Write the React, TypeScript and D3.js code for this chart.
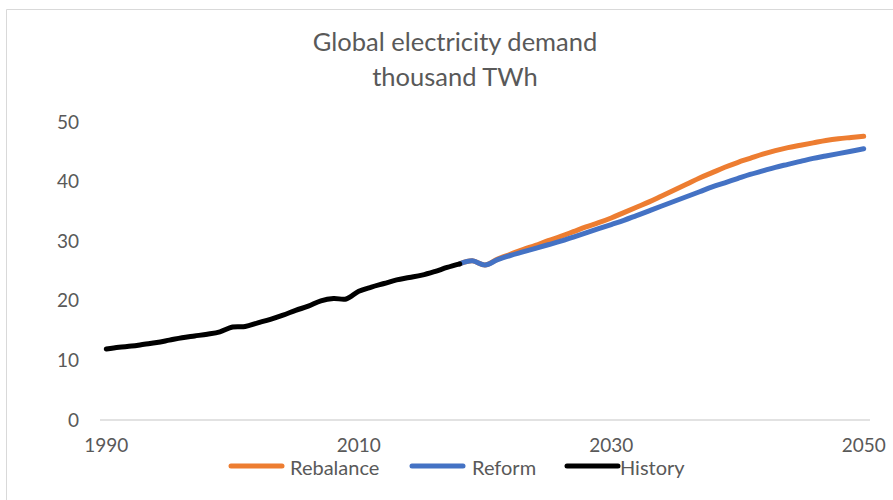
import React from "react";
import * as d3 from "d3";

const title1 = "Global electricity demand";
const title2 = "thousand TWh";

const categories = d3.range(1990, 2051);
const xTickLabels = [1990, 2010, 2030, 2050];
const yTicks = [0, 10, 20, 30, 40, 50];

const historyStart = 1990;
const historyValues = [
  11.9, 12.2, 12.4, 12.7, 13.0, 13.4, 13.8, 14.1, 14.4, 14.8,
  15.6, 15.7, 16.3, 16.9, 17.6, 18.4, 19.1, 20.0, 20.4, 20.3,
  21.6, 22.3, 22.9, 23.5, 23.9, 24.3, 24.9, 25.6, 26.2,
];

const forecastStart = 2018;
const rebalanceValues = [
  26.2, 26.7, 26.0, 27.0, 27.8, 28.6, 29.3, 30.1, 30.8, 31.6,
  32.4, 33.1, 33.9, 34.8, 35.7, 36.6, 37.6, 38.6, 39.6, 40.6,
  41.5, 42.4, 43.2, 43.9, 44.6, 45.2, 45.7, 46.1, 46.5, 46.9,
  47.2, 47.4, 47.6,
];
const reformValues = [
  26.2, 26.7, 26.0, 26.9, 27.6, 28.2, 28.8, 29.4, 30.0, 30.7,
  31.4, 32.1, 32.8, 33.5, 34.3, 35.1, 35.9, 36.7, 37.5, 38.3,
  39.1, 39.8, 40.5, 41.2, 41.8, 42.4, 42.9, 43.4, 43.9, 44.3,
  44.7, 45.1, 45.5,
];

const seriesNames = ["Rebalance", "Reform", "History"];
const seriesColors = ["#ED7D31", "#4472C4", "#000000"];

const FONT = "Lato, 'Open Sans', sans-serif";
const TEXT = "#595959";

export default function App() {
  const W = 893;
  const H = 500;
  const x = d3
    .scalePoint<number>()
    .domain(categories)
    .range([100, 870])
    .padding(0.5);
  const y = d3.scaleLinear().domain([0, 50]).range([420, 122]);

  const toPts = (start: number, vals: number[]) =>
    vals.map((v, i) => [start + i, v] as [number, number]);

  const line = d3
    .line<[number, number]>()
    .x((d) => x(d[0]) as number)
    .y((d) => y(d[1]))
    .curve(d3.curveCatmullRom.alpha(0.5));

  const series = [
    toPts(forecastStart, rebalanceValues),
    toPts(forecastStart, reformValues),
    toPts(historyStart, historyValues),
  ];

  const legendItems = [
    { lx: 231, tx: 290 },
    { lx: 412, tx: 472 },
    { lx: 567, tx: 620 },
  ];

  return (
    <svg
      width={W}
      height={H}
      style={{ position: "absolute", left: 0, top: 0, background: "#fff" }}
    >
      <rect x={0} y={0} width={W} height={H} fill="#fff" />
      <line x1={6.5} y1={9.5} x2={W} y2={9.5} stroke="#d9d9d9" strokeWidth={1} />
      <line x1={6.5} y1={9.5} x2={6.5} y2={H} stroke="#d9d9d9" strokeWidth={1} />

      <text
        x={455}
        y={51}
        textAnchor="middle"
        fontFamily={FONT}
        fontSize={25.5}
        fill={TEXT}
      >
        {title1}
      </text>
      <text
        x={455}
        y={86}
        textAnchor="middle"
        fontFamily={FONT}
        fontSize={25.5}
        fill={TEXT}
      >
        {title2}
      </text>

      {yTicks.map((t) => (
        <text
          key={t}
          x={79}
          y={y(t)}
          dy="0.35em"
          textAnchor="end"
          fontFamily={FONT}
          fontSize={19}
          fill={TEXT}
        >
          {t}
        </text>
      ))}

      <line
        x1={x.range()[0]}
        x2={x.range()[1]}
        y1={y(0)}
        y2={y(0)}
        stroke="#d9d9d9"
        strokeWidth={1.5}
      />

      {xTickLabels.map((t) => (
        <text
          key={t}
          x={x(t) as number}
          y={445}
          dy="0.35em"
          textAnchor="middle"
          fontFamily={FONT}
          fontSize={19}
          fill={TEXT}
        >
          {t}
        </text>
      ))}

      {series.map((pts, i) => (
        <path
          key={seriesNames[i]}
          d={line(pts) || ""}
          fill="none"
          stroke={seriesColors[i]}
          strokeWidth={5}
          strokeLinecap="round"
          strokeLinejoin="round"
        />
      ))}

      {seriesNames.map((name, i) => (
        <g key={name}>
          <line
            x1={legendItems[i].lx}
            x2={legendItems[i].lx + 51}
            y1={466}
            y2={466}
            stroke={seriesColors[i]}
            strokeWidth={5}
            strokeLinecap="round"
          />
          <text
            x={legendItems[i].tx}
            y={468}
            dy="0.35em"
            fontFamily={FONT}
            fontSize={20}
            fill={TEXT}
          >
            {name}
          </text>
        </g>
      ))}
    </svg>
  );
}
